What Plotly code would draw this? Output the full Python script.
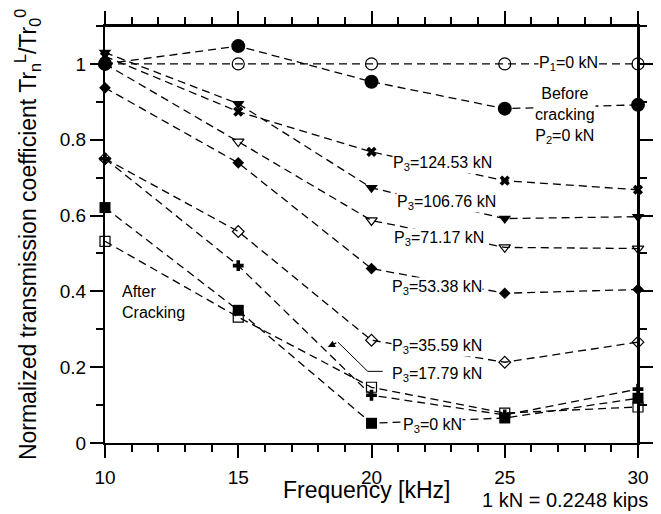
import plotly.graph_objects as go

freq = [10, 15, 20, 25, 30]

p1_0 = [1.0, 1.0, 1.0, 1.0, 1.0]
p2_0 = [1.0, 1.047, 0.953, 0.882, 0.892]
p3_124 = [1.02, 0.874, 0.768, 0.692, 0.668]
p3_106 = [1.03, 0.895, 0.673, 0.592, 0.597]
p3_71 = [1.0, 0.795, 0.587, 0.516, 0.513]
p3_53 = [0.937, 0.739, 0.46, 0.395, 0.405]
p3_35 = [0.75, 0.558, 0.271, 0.213, 0.266]
p3_17 = [0.75, 0.468, 0.126, 0.074, 0.142]
p3_0 = [0.621, 0.35, 0.052, 0.066, 0.118]
after_open = [0.532, 0.332, 0.147, 0.079, 0.095]

x_range = [10, 30]
y_range = [0, 1.1]
x_major = [10, 15, 20, 25, 30]
y_major = [0, 0.2, 0.4, 0.6, 0.8, 1.0]

W, H = 661, 514
ML, MR, MT, MB = 105, 23, 26, 71
PW, PH = W - ML - MR, H - MT - MB

series = [
    (p1_0, "circle-open", 12, 1.2),
    (after_open, "square-open", 10, 1.2),
    (p3_0, "square", 11, 0),
    (p3_17, "cross", 9, 0),
    (p3_35, "diamond-open", 9, 1.2),
    (p3_53, "diamond", 9, 0),
    (p3_71, "triangle-down-open", 10, 1.2),
    (p3_106, "triangle-down", 11, 0),
    (p3_124, "x", 9, 0),
    (p2_0, "circle", 14, 0),
]

fig = go.Figure()
for vals, sym, size, lw in series:
    fig.add_trace(go.Scatter(
        x=freq, y=vals, mode="lines+markers",
        line=dict(color="black", width=1.3, dash="8px,5px"),
        marker=dict(symbol=sym, size=size, color="black",
                    line=dict(color="black", width=lw)),
        cliponaxis=False, showlegend=False, hoverinfo="skip",
    ))

# top / right frame with outward ticks (mirrored axes)
dx = (x_range[1] - x_range[0]) / PW
dy = (y_range[1] - y_range[0]) / PH
fx, fy = [x_range[0], x_range[1], x_range[1]], [y_range[1], y_range[1], y_range[0]]
tx, ty = [], []
for i in range(x_range[0], x_range[1] + 1):
    L = 13 if i in x_major else 7
    tx += [i, i, None]
    ty += [y_range[1], y_range[1] + L * dy, None]
for k in range(0, 12):
    v = round(k * 0.1, 1)
    L = 13 if v in y_major else 7
    tx += [x_range[1], x_range[1] + L * dx, None]
    ty += [v, v, None]
fig.add_trace(go.Scatter(x=fx, y=fy, mode="lines", line=dict(color="black", width=2),
                         cliponaxis=False, showlegend=False, hoverinfo="skip"))
fig.add_trace(go.Scatter(x=tx, y=ty, mode="lines", line=dict(color="black", width=1.5),
                         cliponaxis=False, showlegend=False, hoverinfo="skip"))

FONT = "Liberation Sans, Arial, sans-serif"
labels = [
    (27.4, 1.0, "P<sub>1</sub>=0 kN"),
    (27.25, 0.863, "Before<br>cracking<br>P<sub>2</sub>=0 kN"),
    (22.67, 0.737, "P<sub>3</sub>=124.53 kN"),
    (22.82, 0.634, "P<sub>3</sub>=106.76 kN"),
    (22.52, 0.539, "P<sub>3</sub>=71.17 kN"),
    (22.45, 0.411, "P<sub>3</sub>=53.38 kN"),
    (22.45, 0.255, "P<sub>3</sub>=35.59 kN"),
    (22.45, 0.182, "P<sub>3</sub>=17.79 kN"),
    (22.3, 0.045, "P<sub>3</sub>=0 kN"),
]
for x, y, t in labels:
    fig.add_annotation(x=x, y=y, text=t, showarrow=False,
                       font=dict(family=FONT, size=16, color="black"),
                       bgcolor="white", borderpad=0)

fig.add_annotation(x=10.56, y=0.372, text="After<br>Cracking", showarrow=False,
                   xanchor="left", align="left",
                   font=dict(family=FONT, size=16, color="black"))

# callout for P3=17.79 kN
fig.add_shape(type="line", x0=20.42, y0=0.189, x1=19.86, y1=0.189,
              line=dict(color="black", width=1), xref="x", yref="y")
fig.add_shape(type="line", x0=19.86, y0=0.189, x1=18.74, y1=0.266,
              line=dict(color="black", width=1), xref="x", yref="y")
fig.add_annotation(x=18.36, y=0.253, ax=10, ay=-5,
                   text="", showarrow=True, arrowhead=2, arrowsize=1.2,
                   arrowwidth=1.2, arrowcolor="black")

fig.add_annotation(x=0.863, y=-0.137, xref="paper", yref="paper",
                   yanchor="middle", xanchor="center",
                   text="1 kN = 0.2248 kips", showarrow=False,
                   font=dict(family=FONT, size=20, color="black"))
fig.add_annotation(x=0.49, y=-0.113, xref="paper", yref="paper",
                   yanchor="middle", xanchor="center",
                   text="Frequency [kHz]", showarrow=False,
                   font=dict(family=FONT, size=23, color="black"))

axis_common = dict(
    showline=True, linecolor="black", linewidth=2, mirror="ticks",
    ticks="outside", ticklen=13, tickwidth=1.5, tickcolor="black",
    showgrid=False, zeroline=False, automargin=False,
    tickfont=dict(family=FONT, size=19, color="black"),
)
xminor = dict(dtick=1, ticks="outside", ticklen=7, tickwidth=1.5,
              tickcolor="black", showgrid=False)
yminor = dict(dtick=0.1, ticks="outside", ticklen=7, tickwidth=1.5,
              tickcolor="black", showgrid=False)

fig.update_layout(
    width=W, height=H,
    margin=dict(l=ML, r=MR, t=MT, b=MB),
    plot_bgcolor="white", paper_bgcolor="white",
    font=dict(family=FONT, color="black"),
    xaxis=dict(range=x_range, tickvals=x_major, minor=xminor,
               ticklabelstandoff=3, **axis_common),
    yaxis=dict(range=y_range, tickvals=y_major, ticktext=["0", "0.2", "0.4", "0.6", "0.8", "1"],
               minor=yminor,
               title=dict(text="Normalized transmission coefficient Tr<sub>n</sub><sup>L</sup>/Tr<sub>0</sub><sup>0</sup>",
                          standoff=17,
                          font=dict(family=FONT, size=23, color="black")),
               **axis_common),
)

fig.write_html("out.html")
